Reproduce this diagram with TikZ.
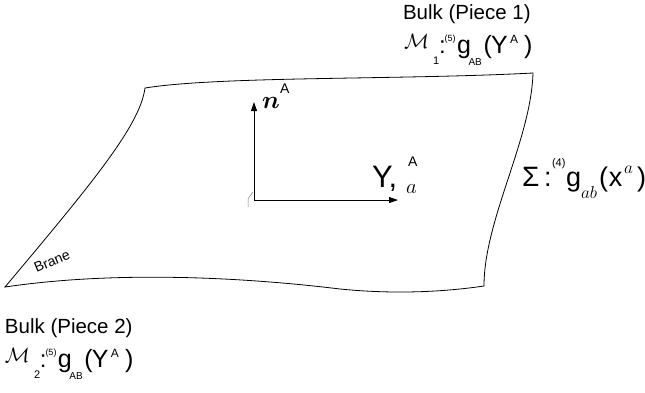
\documentclass[tikz,border=0pt]{standalone}
\usepackage{fontspec}
\setmainfont{Liberation Sans}
\usepackage{bm}
\usetikzlibrary{arrows.meta}
\newcommand{\fsz}[1]{\fontsize{#1}{#1}\selectfont}
\newcommand{\bulkmetric}[1]{%
\makebox[29pt][l]{\raisebox{4.5pt}{\fsz{22}$\mathcal{M}$}}%
\makebox[6pt][l]{\raisebox{-11.5pt}{\fsz{11}#1}}%
\makebox[5.5pt][l]{\fsz{24}:}%
\makebox[12.5pt][l]{\raisebox{12pt}{\fsz{9}(5)}}%
\makebox[11.5pt][l]{\fsz{25}g}%
\makebox[15pt][l]{\raisebox{-12pt}{\fsz{10}AB}}%
\makebox[7.5pt][l]{\fsz{25}(}%
\makebox[19pt][l]{\fsz{25}Y}%
\makebox[14pt][l]{\raisebox{9.5pt}{\fsz{12}A}}%
{\fsz{25})}}
\tikzset{
  brane/.style={line width=0.8pt, line join=miter},
  vec/.style={line width=0.8pt, -{Triangle[length=9pt,width=6pt]}},
  lbl/.style={inner sep=0pt, outer sep=0pt, anchor=base west},
}
\begin{document}
\begin{tikzpicture}[x=1pt,y=-1pt]
\useasboundingbox (0,0) rectangle (645,392);
% brane corners
\coordinate (tl) at (145,88);
\coordinate (tr) at (533,73);
\coordinate (br) at (484,286);
\coordinate (bl) at (5,287);
\draw[brane] (bl) .. controls (120,270) and (250,278) .. (340,289)
  .. controls (400,295) and (450,291) .. (br)
  .. controls (484,220) and (531,140) .. (tr)
  .. controls (400,80) and (220,76) .. (tl)
  .. controls (140,125) and (95,180) .. (bl) -- cycle;
% vectors
\coordinate (o) at (254,200);
\coordinate (ntip) at (254,102);
\coordinate (ytip) at (398,200);
\draw[vec] (o) -- (ntip);
\draw[vec] (o) -- (ytip);
\coordinate (m1) at (248,207);
\coordinate (m2) at (248,199);
\coordinate (m3) at (253,192);
\draw[gray, line width=0.5pt] (m1) -- (m2) -- (m3);
% labels
\node[lbl] (nlab) at (262,108) {\fsz{24}$\bm{n}$};
\node[lbl] (nA) at (280,93) {\fsz{14}A};
\node[lbl] (ylab) at (372,187) {\fsz{31}Y,};
\node[lbl] (yA) at (408,166) {\fsz{14}A};
\node[lbl] (ya) at (406,193) {\fsz{21}$a$};
\node[lbl] (sig) at (522,186) {%
\makebox[22pt][l]{\fsz{28}Σ}%
\makebox[8pt][l]{\fsz{27}:}%
\makebox[14pt][l]{\raisebox{20pt}{\fsz{11}(4)}}%
\makebox[15pt][l]{\fsz{27}g}%
\makebox[18pt][l]{\raisebox{-12pt}{\fsz{18}$ab$}}%
\makebox[10pt][l]{\fsz{27}(}%
\makebox[15pt][l]{\fsz{27}x}%
\makebox[13pt][l]{\raisebox{13pt}{\fsz{17}$a$}}%
{\fsz{27})}};
\node[lbl] (bulk1) at (403,19.5) {\fsz{20.5}Bulk (Piece 1)};
\node[lbl] (met1) at (404,53) {\bulkmetric{1}};
\node[lbl] (bulk2) at (5,333) {\fsz{20.5}Bulk (Piece 2)};
\node[lbl] (met2) at (5,367) {\bulkmetric{2}};
\node[rotate=23, inner sep=0pt] (brane) at (52,261) {\fsz{14}Brane};
\end{tikzpicture}
\end{document}
